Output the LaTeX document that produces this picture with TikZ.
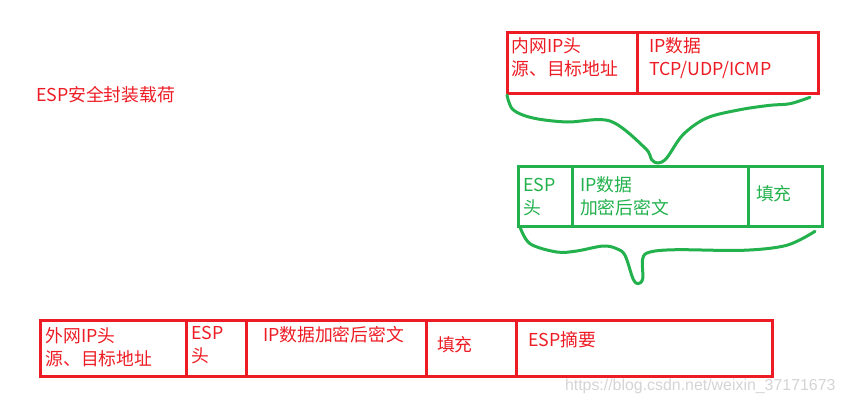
\documentclass[tikz,border=0pt]{standalone}
\usepackage{fontspec}
\setmainfont{Noto Sans CJK SC}
\newfontfamily\wmfont{Liberation Sans}
\definecolor{paint-red}{RGB}{237,28,36}
\definecolor{paint-green}{RGB}{34,177,76}
\definecolor{mark-gray}{RGB}{212,212,212}

\begin{document}
\begin{tikzpicture}[
  x=1pt, y=-1pt,
  every node/.style={font=\fontsize{17.8}{23}\selectfont, align=left, inner sep=0pt, outer sep=0pt},
  redcell/.style={draw=paint-red, line width=3pt, anchor=north west, minimum height=60pt},
  greencell/.style={draw=paint-green, line width=3pt, anchor=north west, minimum height=60pt},
  redtxt/.style={text=paint-red, anchor=north west},
  greentxt/.style={text=paint-green, anchor=north west},
  bracecurve/.style={draw=paint-green, line width=3pt, line cap=round, line join=round},
]
  \useasboundingbox (0,0) rectangle (845,404);

  \node[redtxt, anchor=base west] (esp-title) at (36,101) {ESP安全封装载荷};

  % inner packet
  \node[redcell, minimum width=130pt] (inhdr) at (507,33) {};
  \node[redcell, minimum width=181pt] (indata) at (inhdr.north east) {};
  \node[redtxt] (inhdr-txt) at ([shift={(4.5,4.8)}]inhdr.north west) {内网IP头\\源、目标地址};
  \node[redtxt] (indata-txt) at ([shift={(12,4.8)}]indata.north west) {IP数据\\TCP/UDP/ICMP};

  \draw[bracecurve] plot[smooth, tension=0.55] coordinates {
    (507,95) (513,109.7) (533,118) (567,122) (610,121) (645,148) (651.7,159.7)
    (658,163) (666.7,158) (683,134.7) (706.7,118) (740,109.7) (770,105.3) (790,103.7) (810,97.3)};

  % encrypted payload
  \node[greencell, minimum width=54pt] (esphdr) at (518,166) {};
  \node[greencell, minimum width=176pt] (encdata) at (esphdr.north east) {};
  \node[greencell, minimum width=74pt] (pad) at (encdata.north east) {};
  \node[greentxt] (esphdr-txt) at ([shift={(5.5,12.6)}]esphdr.north west) {ESP\\头};
  \node[greentxt] (encdata-txt) at ([shift={(8,10.3)}]encdata.north west) {IP数据\\加密后密文};
  \node[greentxt] (pad-txt) at ([shift={(8,19.3)}]pad.north west) {填充};

  \draw[bracecurve] plot[smooth, tension=0.55] coordinates {
    (520,227) (530,243.7) (556.7,252) (576.7,251) (603,246) (616.7,248.7) (625,255.3)
    (633,278.7) (638,283.7) (642.7,278.7) (642.7,258.7) (650,252) (676.7,249.7)
    (743,250.3) (786.7,245.3) (815,231.3)};

  % outer packet
  \node[redcell, minimum width=145.5pt, minimum height=56pt] (outhdr) at (40.5,320) {};
  \node[redcell, minimum width=60.5pt, minimum height=56pt] (esph2) at (outhdr.north east) {};
  \node[redcell, minimum width=180pt, minimum height=56pt] (encdata2) at (esph2.north east) {};
  \node[redcell, minimum width=90pt, minimum height=56pt] (pad2) at (encdata2.north east) {};
  \node[redcell, minimum width=255.5pt, minimum height=56pt] (icv) at (pad2.north east) {};
  \node[redtxt] (outhdr-txt) at ([shift={(5,7.8)}]outhdr.north west) {外网IP头\\源、目标地址};
  \node[redtxt] (esph2-txt) at ([shift={(5.5,6.3)}]esph2.north west) {ESP\\头};
  \node[redtxt] (encdata2-txt) at ([shift={(16.5,6.8)}]encdata2.north west) {IP数据加密后密文};
  \node[redtxt] (pad2-txt) at ([shift={(10.5,16.8)}]pad2.north west) {填充};
  \node[redtxt] (icv-txt) at ([shift={(11.5,11.8)}]icv.north west) {ESP摘要};

  \node[font=\wmfont\fontsize{15.9}{18}\selectfont, text=mark-gray, anchor=base west] (watermark) at (565,390) {https://blog.csdn.net/weixin\_37171673};
\end{tikzpicture}
\end{document}
